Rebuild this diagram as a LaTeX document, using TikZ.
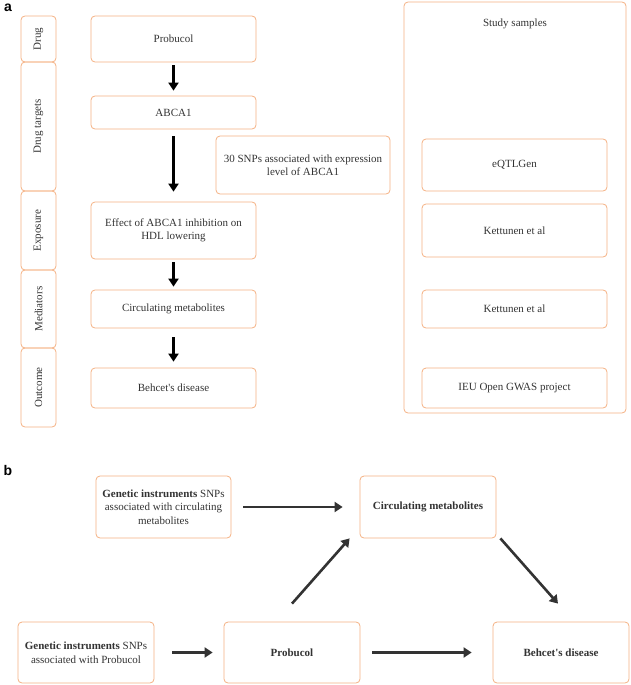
\documentclass[tikz,border=0pt]{standalone}
\usepackage{fontspec}
\setmainfont{Liberation Serif}
\newfontfamily\panelfont{Liberation Sans}
\usepackage{xcolor}
\usepackage{tikz}
\usetikzlibrary{arrows.meta, positioning, calc}
\definecolor{boxorange}{HTML}{F4B183}
\definecolor{textgray}{HTML}{333333}
\definecolor{arrowgray}{HTML}{333333}

\begin{document}
\begin{tikzpicture}[
    x=1pt, y=-1pt,
    box/.style={
        draw=boxorange, line width=0.8pt,
        rectangle, rounded corners=4pt,
        inner sep=3pt, align=center, text=textgray,
        font=\fontsize{11}{13.5}\selectfont
    },
    stagebox/.style={box, rotate=90, minimum height=35pt},
    mainbox/.style={box, minimum width=165pt},
    samplebox/.style={box, minimum width=185pt},
    linkbox/.style={box, minimum width=136pt, minimum height=61pt},
    downarr/.style={
        -{Triangle[length=8pt, width=10pt]}, line width=2.6pt, draw=black
    },
    arr/.style={
        -{Triangle[length=8pt, width=10pt]}, line width=2.6pt, draw=arrowgray
    },
    panel/.style={font=\panelfont\bfseries\fontsize{14}{14}\selectfont, text=black},
]
\useasboundingbox (0,0) rectangle (631,685);

\node[panel] (labela) at (8,8) {a};
\node[stagebox, minimum width=46pt] (drug) at (38.5,39) {Drug};
\node[stagebox, minimum width=129pt] (targets) at (38.5,126.5) {Drug targets};
\node[stagebox, minimum width=79pt] (exposure) at (38.5,230.5) {Exposure};
\node[stagebox, minimum width=78pt] (mediators) at (38.5,309) {Mediators};
\node[stagebox, minimum width=79pt] (outcome) at (38.5,387.5) {Outcome};

\node[mainbox, minimum height=46pt] (probucol) at (173.5,39) {Probucol};
\node[mainbox, minimum height=33pt] (abca) at (173.5,112.5) {ABCA1};
\node[mainbox, minimum height=57pt] (effect) at (173.5,230.5) {Effect of ABCA1 inhibition on\\HDL lowering};
\node[mainbox, minimum height=38pt] (metab) at (173.5,309) {Circulating metabolites};
\node[mainbox, minimum height=40pt] (behcet) at (173.5,388) {Behcet\textquotesingle s disease};
\node[box, minimum width=174pt, minimum height=58pt] (snps) at (303,165) {30 SNPs associated with expression\\level of ABCA1};

\node[box, minimum width=222pt, minimum height=411pt] (study) at (515,207.5) {};
\node[box, draw=none] (studytitle) at ([yshift=-22pt]study.north) {Study samples};
\node[samplebox, minimum height=52pt] (eqtl) at (514.5,165) {eQTLGen};
\node[samplebox, minimum height=53pt] (kett1) at (514.5,230.5) {Kettunen et al};
\node[samplebox, minimum height=38pt] (kett2) at (514.5,309) {Kettunen et al};
\node[samplebox, minimum height=40pt] (ieu) at (514.5,388) {IEU Open GWAS project};

\draw[downarr, shorten <=3pt, shorten >=5pt] (probucol) -- (abca);
\draw[downarr, shorten <=7pt, shorten >=10pt] (abca) -- (effect);
\draw[downarr, shorten <=3pt, shorten >=3pt] (effect) -- (metab);
\draw[downarr, shorten <=9pt, shorten >=6pt] (metab) -- (behcet);

\node[panel] (labelb) at (8,470) {b};
\node[linkbox, minimum width=135pt, minimum height=62pt] (gimetab) at (163.5,507) {\textbf{Genetic instruments} SNPs\\associated with circulating\\metabolites};
\node[linkbox] (giprob) at (86,652.5) {\textbf{Genetic instruments} SNPs\\associated with Probucol};
\node[linkbox] (probb) at (292,652.5) {\textbf{Probucol}};
\node[linkbox, minimum height=62pt] (metabb) at (428,507) {\textbf{Circulating metabolites}};
\node[linkbox] (behcetb) at (561,652.5) {\textbf{Behcet\textquotesingle s disease}};

\draw[arr, shorten <=12pt, shorten >=17pt] (gimetab) -- (metabb);
\draw[arr, shorten <=18pt, shorten >=11pt] (giprob) -- (probb);
\draw[arr, shorten <=12pt, shorten >=21pt] (probb) -- (behcetb);
\draw[arr] ([yshift=18pt]probb.north) -- ([xshift=-10pt]metabb.south west);
\draw[arr] ([xshift=4pt]metabb.south east) -- ([xshift=-3pt, yshift=18pt]behcetb.north);
\end{tikzpicture}
\end{document}
